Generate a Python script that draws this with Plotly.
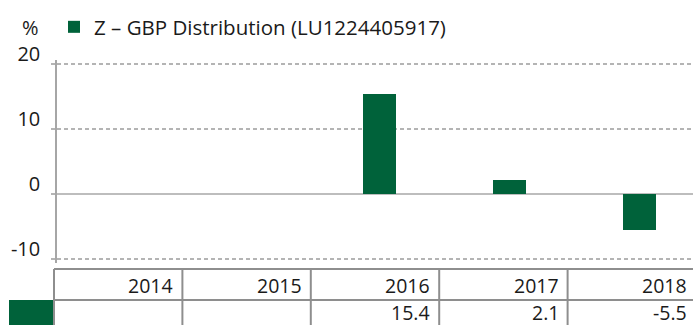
import plotly.graph_objects as go

# Calendar-year returns of the share class (%)
years = ["2014", "2015", "2016", "2017", "2018"]
returns = [None, None, 15.4, 2.1, -5.5]
return_labels = ["", "", "15.4", "2.1", "-5.5"]
series_name = "Z – GBP Distribution (LU1224405917)"
y_ticks = [-10, 0, 10, 20]

GREEN = "#00623A"
TEXT = "#1a1a1a"
FONT = "Open Sans"

W, H = 693, 325
PLOT_L, PLOT_R = 57, 693
PLOT_T, PLOT_B = 60, 263
PX_PER_UNIT = 6.5
Y20_PX = 64  # pixel row of the 20% gridline


def xp(px):
    return (px - PLOT_L) / (PLOT_R - PLOT_L)


def yp(py):
    return (PLOT_B - py) / (PLOT_B - PLOT_T)


fig = go.Figure()
fig.add_trace(go.Bar(
    x=years, y=returns, name=series_name,
    marker=dict(color=GREEN, line=dict(width=0)),
    width=0.254, showlegend=True,
))

# data table under the chart: header row of years, value row
tbl_left, tbl_right = 54, 696
col_w = (tbl_right - tbl_left) / len(years)
row_top, row_mid, row_bot = 269, 300, 332
line_style = dict(color="#8e8e8e", width=2)
shapes = [
    dict(type="line", xref="paper", yref="paper",
         x0=xp(tbl_left), x1=xp(tbl_right), y0=yp(row_top), y1=yp(row_top), line=line_style),
    dict(type="line", xref="paper", yref="paper",
         x0=xp(tbl_left), x1=xp(tbl_right), y0=yp(row_mid), y1=yp(row_mid), line=line_style),
    dict(type="rect", xref="paper", yref="paper",
         x0=xp(9), x1=xp(tbl_left), y0=yp(row_mid), y1=yp(row_bot),
         fillcolor=GREEN, line=dict(width=0)),
]
for i in range(len(years)):
    xl = tbl_left + i * col_w
    shapes.append(dict(type="line", xref="paper", yref="paper",
                       x0=xp(xl), x1=xp(xl), y0=yp(row_top), y1=yp(row_bot), line=line_style))

annotations = [
    dict(text="%", xref="paper", yref="paper", x=xp(41), y=yp(28),
         xanchor="right", yanchor="middle", showarrow=False,
         font=dict(family=FONT, size=20, color=TEXT)),
]
for i, (yr, lab) in enumerate(zip(years, return_labels)):
    xr = tbl_left + (i + 1) * col_w - 7
    if xr > W - 4:
        xr = W - 4
    annotations.append(dict(text=yr, xref="paper", yref="paper", x=xp(xr), y=yp(285),
                            xanchor="right", yanchor="middle", showarrow=False,
                            font=dict(family=FONT, size=19.5, color=TEXT)))
    if lab:
        annotations.append(dict(text=lab, xref="paper", yref="paper", x=xp(xr), y=yp(312),
                                xanchor="right", yanchor="middle", showarrow=False,
                                font=dict(family=FONT, size=19.5, color=TEXT)))

y_top = 20 + (Y20_PX - PLOT_T) / PX_PER_UNIT
y_bot = y_top - (PLOT_B - PLOT_T) / PX_PER_UNIT

fig.update_layout(
    width=W, height=H,
    margin=dict(l=PLOT_L, r=W - PLOT_R, t=PLOT_T, b=H - PLOT_B, pad=0, autoexpand=False),
    paper_bgcolor="white", plot_bgcolor="white",
    font=dict(family=FONT, size=19, color=TEXT),
    showlegend=True,
    legend=dict(orientation="h", xref="container", yref="container",
                x=54 / W, y=1 - 7 / H, xanchor="left", yanchor="top",
                font=dict(family=FONT, size=20.5, color=TEXT),
                bgcolor="rgba(0,0,0,0)", itemclick=False),
    xaxis=dict(type="category", range=[-0.4808, 4.4115], showticklabels=False,
               showgrid=False, zeroline=False, showline=False, ticks=""),
    yaxis=dict(range=[y_bot, y_top],
               tickvals=y_ticks, ticktext=[str(v) for v in y_ticks],
               showgrid=True, gridcolor="#b4b4b4", gridwidth=1.5, griddash="4px,3px",
               zeroline=True, zerolinecolor="#bdbdbd", zerolinewidth=2,
               showline=True, linecolor="#a6a6a6", linewidth=1.5,
               ticks="outside", ticklen=4, tickcolor="#b4b4b4", tickwidth=1.5,
               ticklabelstandoff=7, ticklabelshift=-10,
               tickfont=dict(family=FONT, size=20, color=TEXT)),
    shapes=shapes, annotations=annotations,
    bargap=0,
)

fig.write_html("out.html")
